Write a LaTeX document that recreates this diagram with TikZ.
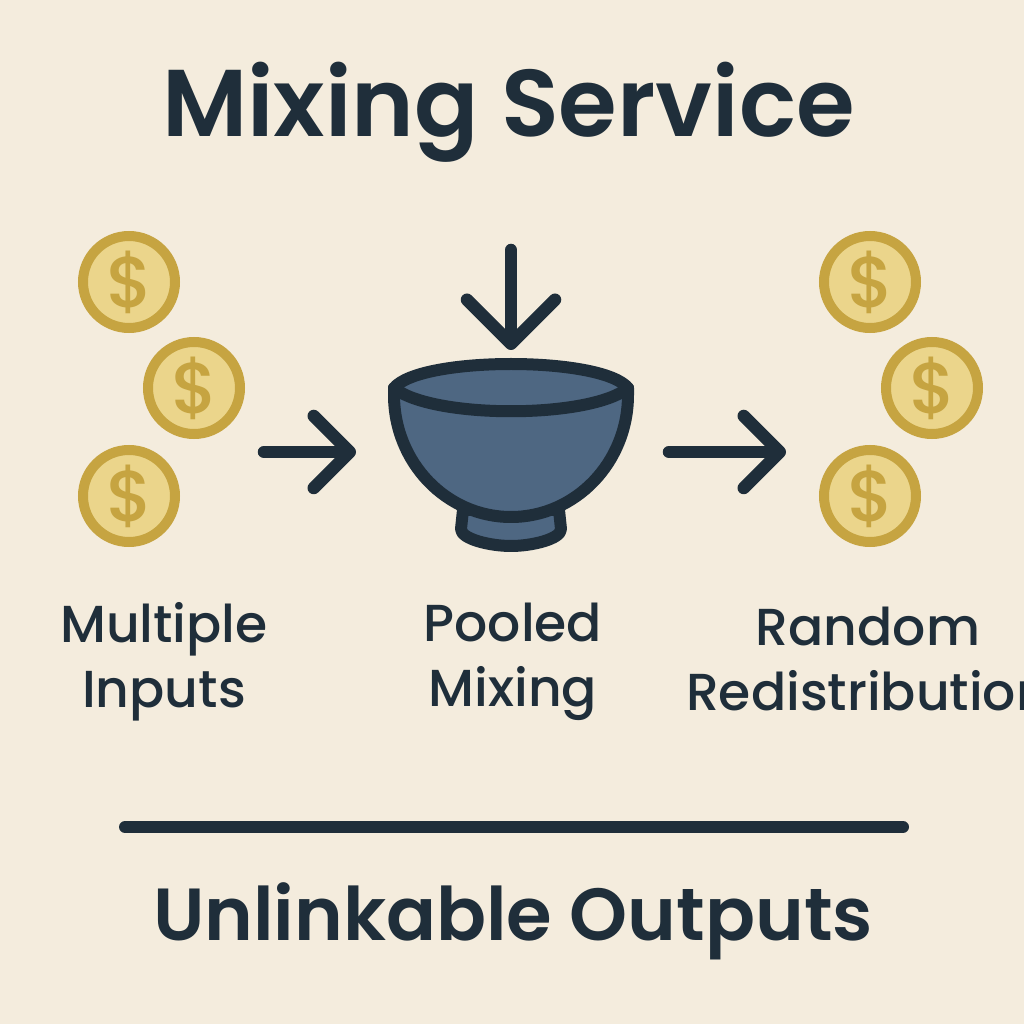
\documentclass[tikz,border=0pt]{standalone}
\usepackage{fontspec}
\setmainfont{Poppins}[UprightFont=* Medium]
\newfontfamily\heavyfont{Poppins SemiBold}
\usetikzlibrary{arrows.meta}
\definecolor{paper}{HTML}{F4ECDD}
\definecolor{ink}{HTML}{1F2E3A}
\definecolor{bowlblue}{HTML}{4E6782}
\definecolor{coinring}{HTML}{C6A441}
\definecolor{coinface}{HTML}{EBD58B}

\begin{document}
\begin{tikzpicture}
[>={Straight Barb[length=3.6mm,width=7.2mm,round]},
coin/.style={circle,draw=coinring,fill=coinface,line width=1mm,minimum size=9.2mm,inner sep=0pt,
  text=coinring,font=\fontsize{20.5}{20.5}\selectfont},
flow/.style={->,ink,line width=1.25mm,line cap=round,line join=round},
bowlline/.style={draw=ink,fill=bowlblue,line width=1.2mm,line join=round},
title/.style={ink,font=\heavyfont\fontsize{27}{27}\selectfont},
footer/.style={ink,font=\heavyfont\fontsize{21}{21}\selectfont},
caption/.style={ink,align=center,font=\fontsize{14.8}{18.5}\selectfont}]
  \fill [paper] (0,0) rectangle (10.24,10.24);
  \clip (0,0) rectangle (10.24,10.24);
  \useasboundingbox (0,0) rectangle (10.24,10.24);

  \node [title] (heading) at (5.085,9.12) {Mixing Service};

  \node [coin] (ina) at (1.29,7.42) {\hspace{0.5pt}\$};
  \node [coin] (inb) at (1.94,6.36) {\hspace{0.5pt}\$};
  \node [coin] (inc) at (1.29,5.28) {\hspace{0.5pt}\$};
  \node [coin] (outa) at (8.70,7.42) {\hspace{0.5pt}\$};
  \node [coin] (outb) at (9.32,6.36) {\hspace{0.5pt}\$};
  \node [coin] (outc) at (8.70,5.28) {\hspace{0.5pt}\$};

  \draw [bowlline] (4.63,5.14) -- (4.61,4.95) .. controls (4.61,4.85) and (4.90,4.78) .. (5.11,4.78) .. controls (5.32,4.78) and (5.61,4.85) .. (5.61,4.95) -- (5.59,5.14) -- cycle;
  \draw [bowlline] (3.94,6.36) -- (3.94,6.29) arc [start angle=180,end angle=360,x radius=1.17,y radius=1.22] -- (6.28,6.36) -- cycle;
  \draw [bowlline] (3.94,6.36) .. controls (4.20,6.68) and (6.02,6.68) .. (6.28,6.36) .. controls (5.90,6.05) and (4.32,6.05) .. (3.94,6.36) -- cycle;

  \coordinate (dropstart) at (5.11,7.74);
  \coordinate (dropend) at (5.11,6.74);
  \coordinate (instart) at (2.64,5.72);
  \coordinate (inend) at (3.56,5.72);
  \coordinate (outstart) at (6.69,5.72);
  \coordinate (outend) at (7.86,5.72);
  \draw [flow,>={Straight Barb[length=4.4mm,width=8.8mm,round]}] (dropstart) -- (dropend);
  \draw [flow] (instart) -- (inend);
  \draw [flow] (outstart) -- (outend);

  \node [caption] (inlabel) at (1.64,3.62) {Multiple\\Inputs};
  \node [caption] (poollabel) at (5.13,3.62) {Pooled\\Mixing};
  \node [caption] (outlabel) at (8.68,3.65) {Random\\Redistribution};

  \coordinate (rulestart) at (1.25,1.97);
  \coordinate (ruleend) at (9.03,1.97);
  \draw [ink,line width=1.2mm,line cap=round] (rulestart) -- (ruleend);

  \node [footer] (footing) at (5.13,1.03) {Unlinkable Outputs};
\end{tikzpicture}
\end{document}
